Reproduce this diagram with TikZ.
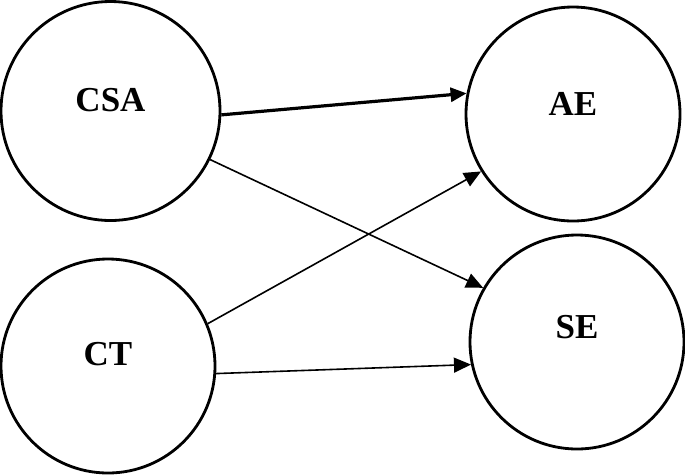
\documentclass[tikz,border=0pt]{standalone}
\usepackage{fontspec}
\setmainfont{Liberation Serif}
\usetikzlibrary{arrows.meta}
\begin{document}
\begin{tikzpicture}[x=1pt,y=-1pt,
  circ/.style={draw,circle,line width=2.8pt,inner sep=0pt},
  lab/.style={font=\fontsize{35}{40}\selectfont\bfseries},
  thinarrow/.style={line width=1.6pt,-{Triangle[length=17pt,width=15pt]}},
  thickarrow/.style={line width=3.2pt,-{Triangle[length=16pt,width=14pt]}}]
\useasboundingbox (0,0) rectangle (685,475);
\node[circ,minimum size=219pt,label={[lab,yshift=11pt]center:CSA}] (csa) at (110.5,111) {};
\node[circ,minimum size=214pt,label={[lab,yshift=10pt]center:AE}] (ae) at (573,114) {};
\node[circ,minimum size=214pt,label={[lab,yshift=12pt]center:CT}] (ct) at (108,366) {};
\node[circ,minimum size=214pt,label={[lab,yshift=15pt]center:SE}] (se) at (577,342) {};
\draw[thickarrow] (csa.-2) -- (ae.169);
\draw[thinarrow] (csa.-26) -- (se.150);
\draw[thinarrow] (ct.23.7) -- (ae.212.5);
\draw[thinarrow] (ct.-4) -- (se.192);
\end{tikzpicture}
\end{document}
